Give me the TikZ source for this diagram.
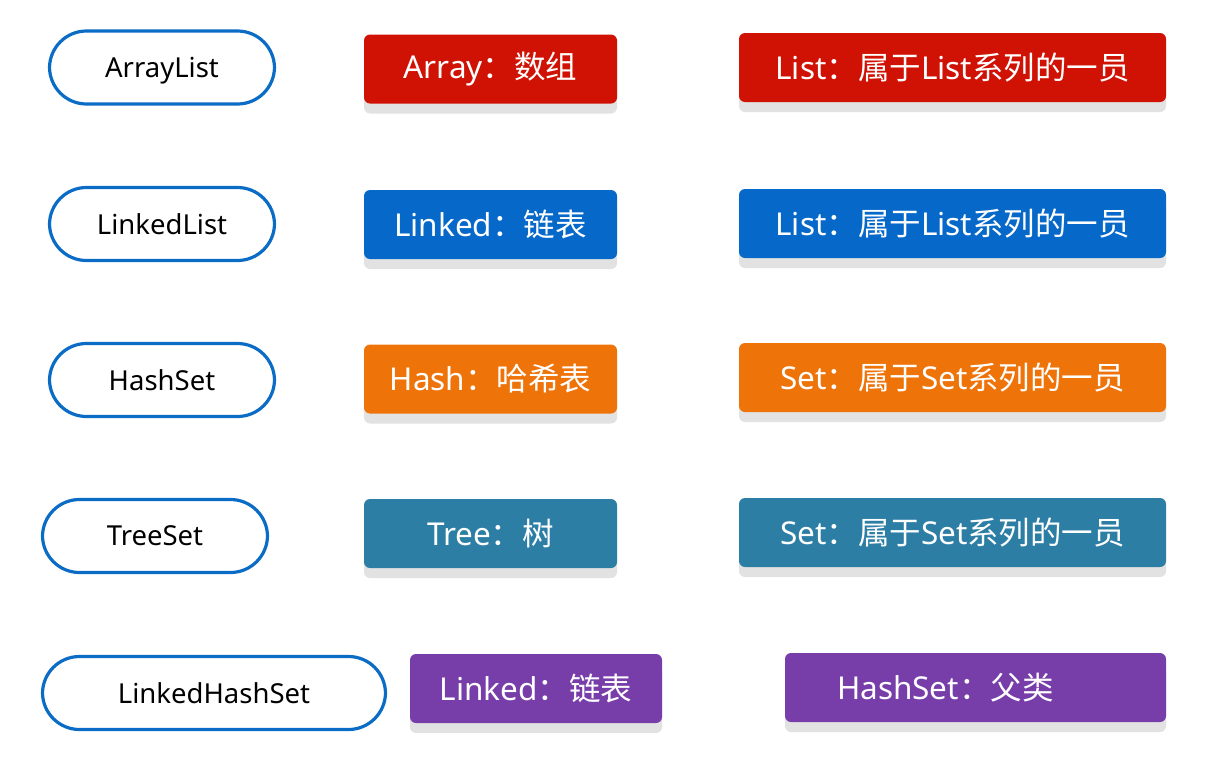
\documentclass[tikz,border=0pt]{standalone}
\usepackage{fontspec}
\setmainfont{Noto Sans}
\newfontfamily\cjk{Noto Sans CJK SC}
\usetikzlibrary{shadows}
\definecolor{pillblue}{HTML}{0B6CC6}
\definecolor{cred}{HTML}{D01204}
\definecolor{cblue}{HTML}{0668C8}
\definecolor{corange}{HTML}{EE7309}
\definecolor{cteal}{HTML}{2C7EA5}
\definecolor{cpurple}{HTML}{773DA9}
\definecolor{shadowgray}{HTML}{E2E2E2}
\begin{document}
\begin{tikzpicture}[x=1pt,y=-1pt,
  pill/.style={draw=pillblue, line width=3.2pt, fill=white, rounded corners=37pt,
    minimum height=73pt, inner sep=0pt, text depth=0pt, font=\fontsize{27.5}{32}\selectfont, text=black},
  tagbox/.style={fill=#1, rounded corners=6pt, minimum height=69pt, inner sep=0pt,
    text=white, font=\fontsize{31.5}{36}\selectfont,
    drop shadow={shadow xshift=0pt, shadow yshift=-10pt, fill=shadowgray, opacity=1}},
]
\useasboundingbox (0,0) rectangle (1219,761);
% row 1
\node[pill, minimum width=225pt] (p1) at (162,67.5) {ArrayList};
\node[tagbox=cred, minimum width=253pt] (m1) at (490.5,69) {Array{\cjk ：数组}};
\node[tagbox=cred, minimum width=427pt] (r1) at (952.5,67.5) {List{\cjk ：属于}List{\cjk 系列的一员}};
% row 2
\node[pill, minimum width=225pt] (p2) at (162,224) {LinkedList};
\node[tagbox=cblue, minimum width=253pt] (m2) at (490.5,224.5) {Linked{\cjk ：链表}};
\node[tagbox=cblue, minimum width=427pt] (r2) at (952.5,223.5) {List{\cjk ：属于}List{\cjk 系列的一员}};
% row 3
\node[pill, minimum width=225pt] (p3) at (162,380) {HashSet};
\node[tagbox=corange, minimum width=253pt] (m3) at (490.5,379) {Hash{\cjk ：哈希表}};
\node[tagbox=corange, minimum width=427pt] (r3) at (952.5,377.5) {Set{\cjk ：属于}Set{\cjk 系列的一员}};
% row 4
\node[pill, minimum width=225pt] (p4) at (155,536) {TreeSet};
\node[tagbox=cteal, minimum width=253pt] (m4) at (490.5,533.5) {Tree{\cjk ：树}};
\node[tagbox=cteal, minimum width=427pt] (r4) at (952.5,532.5) {Set{\cjk ：属于}Set{\cjk 系列的一员}};
% row 5
\node[pill, minimum width=343pt] (p5) at (214,693) {LinkedHashSet};
\node[tagbox=cpurple, minimum width=252pt] (m5) at (536,688.5) {Linked{\cjk ：链表}};
\node[tagbox=cpurple, minimum width=381pt, text width=277pt, inner xsep=52pt, align=left] (r5) at (975.5,687.5) {HashSet{\cjk ：父类}};
\end{tikzpicture}
\end{document}
